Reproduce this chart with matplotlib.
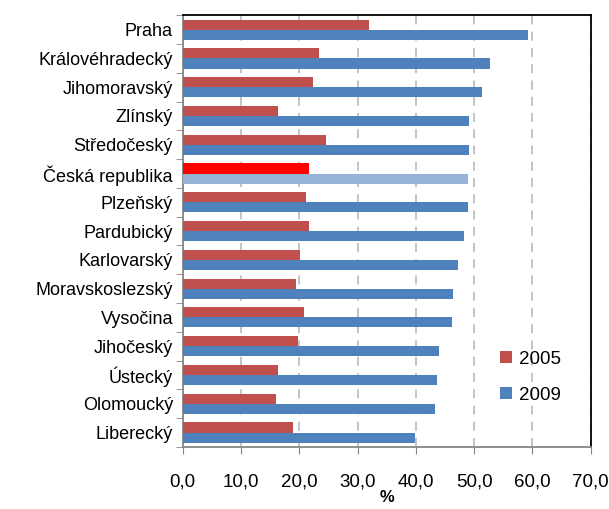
import matplotlib.pyplot as plt
import numpy as np

plt.rcParams["font.family"] = ["Liberation Sans", "DejaVu Sans"]

kraje = ["Praha", "Královéhradecký", "Jihomoravský", "Zlínský", "Středočeský",
         "Česká republika", "Plzeňský", "Pardubický", "Karlovarský",
         "Moravskoslezský", "Vysočina", "Jihočeský", "Ústecký", "Olomoucký",
         "Liberecký"]
hodnoty_2005 = [32.0, 23.3, 22.3, 16.4, 24.5, 21.7, 21.1, 21.7, 20.2,
                19.5, 20.8, 19.8, 16.4, 16.0, 18.9]
hodnoty_2009 = [59.2, 52.7, 51.4, 49.2, 49.2, 48.9, 48.9, 48.2, 47.3,
                46.4, 46.2, 44.0, 43.6, 43.3, 39.9]

cervena = "#C0504D"
modra = "#4F81BD"
barvy_2005 = ["#FF0000" if k == "Česká republika" else cervena for k in kraje]
barvy_2009 = ["#95B3D7" if k == "Česká republika" else modra for k in kraje]

fig = plt.figure(figsize=(6.09, 5.09), dpi=100)
ax = fig.add_axes([0.300, 0.122, 0.670, 0.848])

n = len(kraje)
pozice = np.arange(n)[::-1]
vyska = 0.35
ax.barh(pozice + vyska / 2, hodnoty_2005, height=vyska, color=barvy_2005, label="2005", zorder=3)
ax.barh(pozice - vyska / 2, hodnoty_2009, height=vyska, color=barvy_2009, label="2009", zorder=3)

ax.set_xlim(0, 70)
ax.set_ylim(-0.5, n - 0.5)
ax.set_xticks(np.arange(0, 71, 10))
ax.set_xticklabels([f"{v:.1f}".replace(".", ",") for v in np.arange(0, 71, 10)], fontsize=13.5)
ax.set_yticks(pozice)
ax.set_yticklabels(kraje, fontsize=13)
ax.set_yticks(np.arange(-0.5, n, 1), minor=True)
ax.tick_params(axis="y", which="major", length=0, pad=7)
ax.tick_params(axis="y", which="minor", length=5, color="#868686", direction="out")
ax.tick_params(axis="x", length=5, color="#868686", direction="out", pad=14)

ax.grid(axis="x", color="#BFBFBF", linestyle=(0, (5, 4)), linewidth=1.3, zorder=0)

ax.spines["left"].set_color("#868686")
ax.spines["bottom"].set_color("#868686")
ax.spines["left"].set_linewidth(1.3)
ax.spines["bottom"].set_linewidth(1.3)
ax.spines["top"].set_color("black")
ax.spines["right"].set_color("black")
ax.spines["top"].set_linewidth(1.3)
ax.spines["right"].set_linewidth(1.3)

ax.set_xlabel("%", fontsize=12, fontweight="bold", labelpad=0)

ax.legend(loc="upper left", bbox_to_anchor=(0.76, 0.24), frameon=False, fontsize=13.5,
          handlelength=0.6, handleheight=0.6, labelspacing=1.0, handletextpad=0.4,
          borderaxespad=0)

fig.savefig("out.png", dpi=100)
